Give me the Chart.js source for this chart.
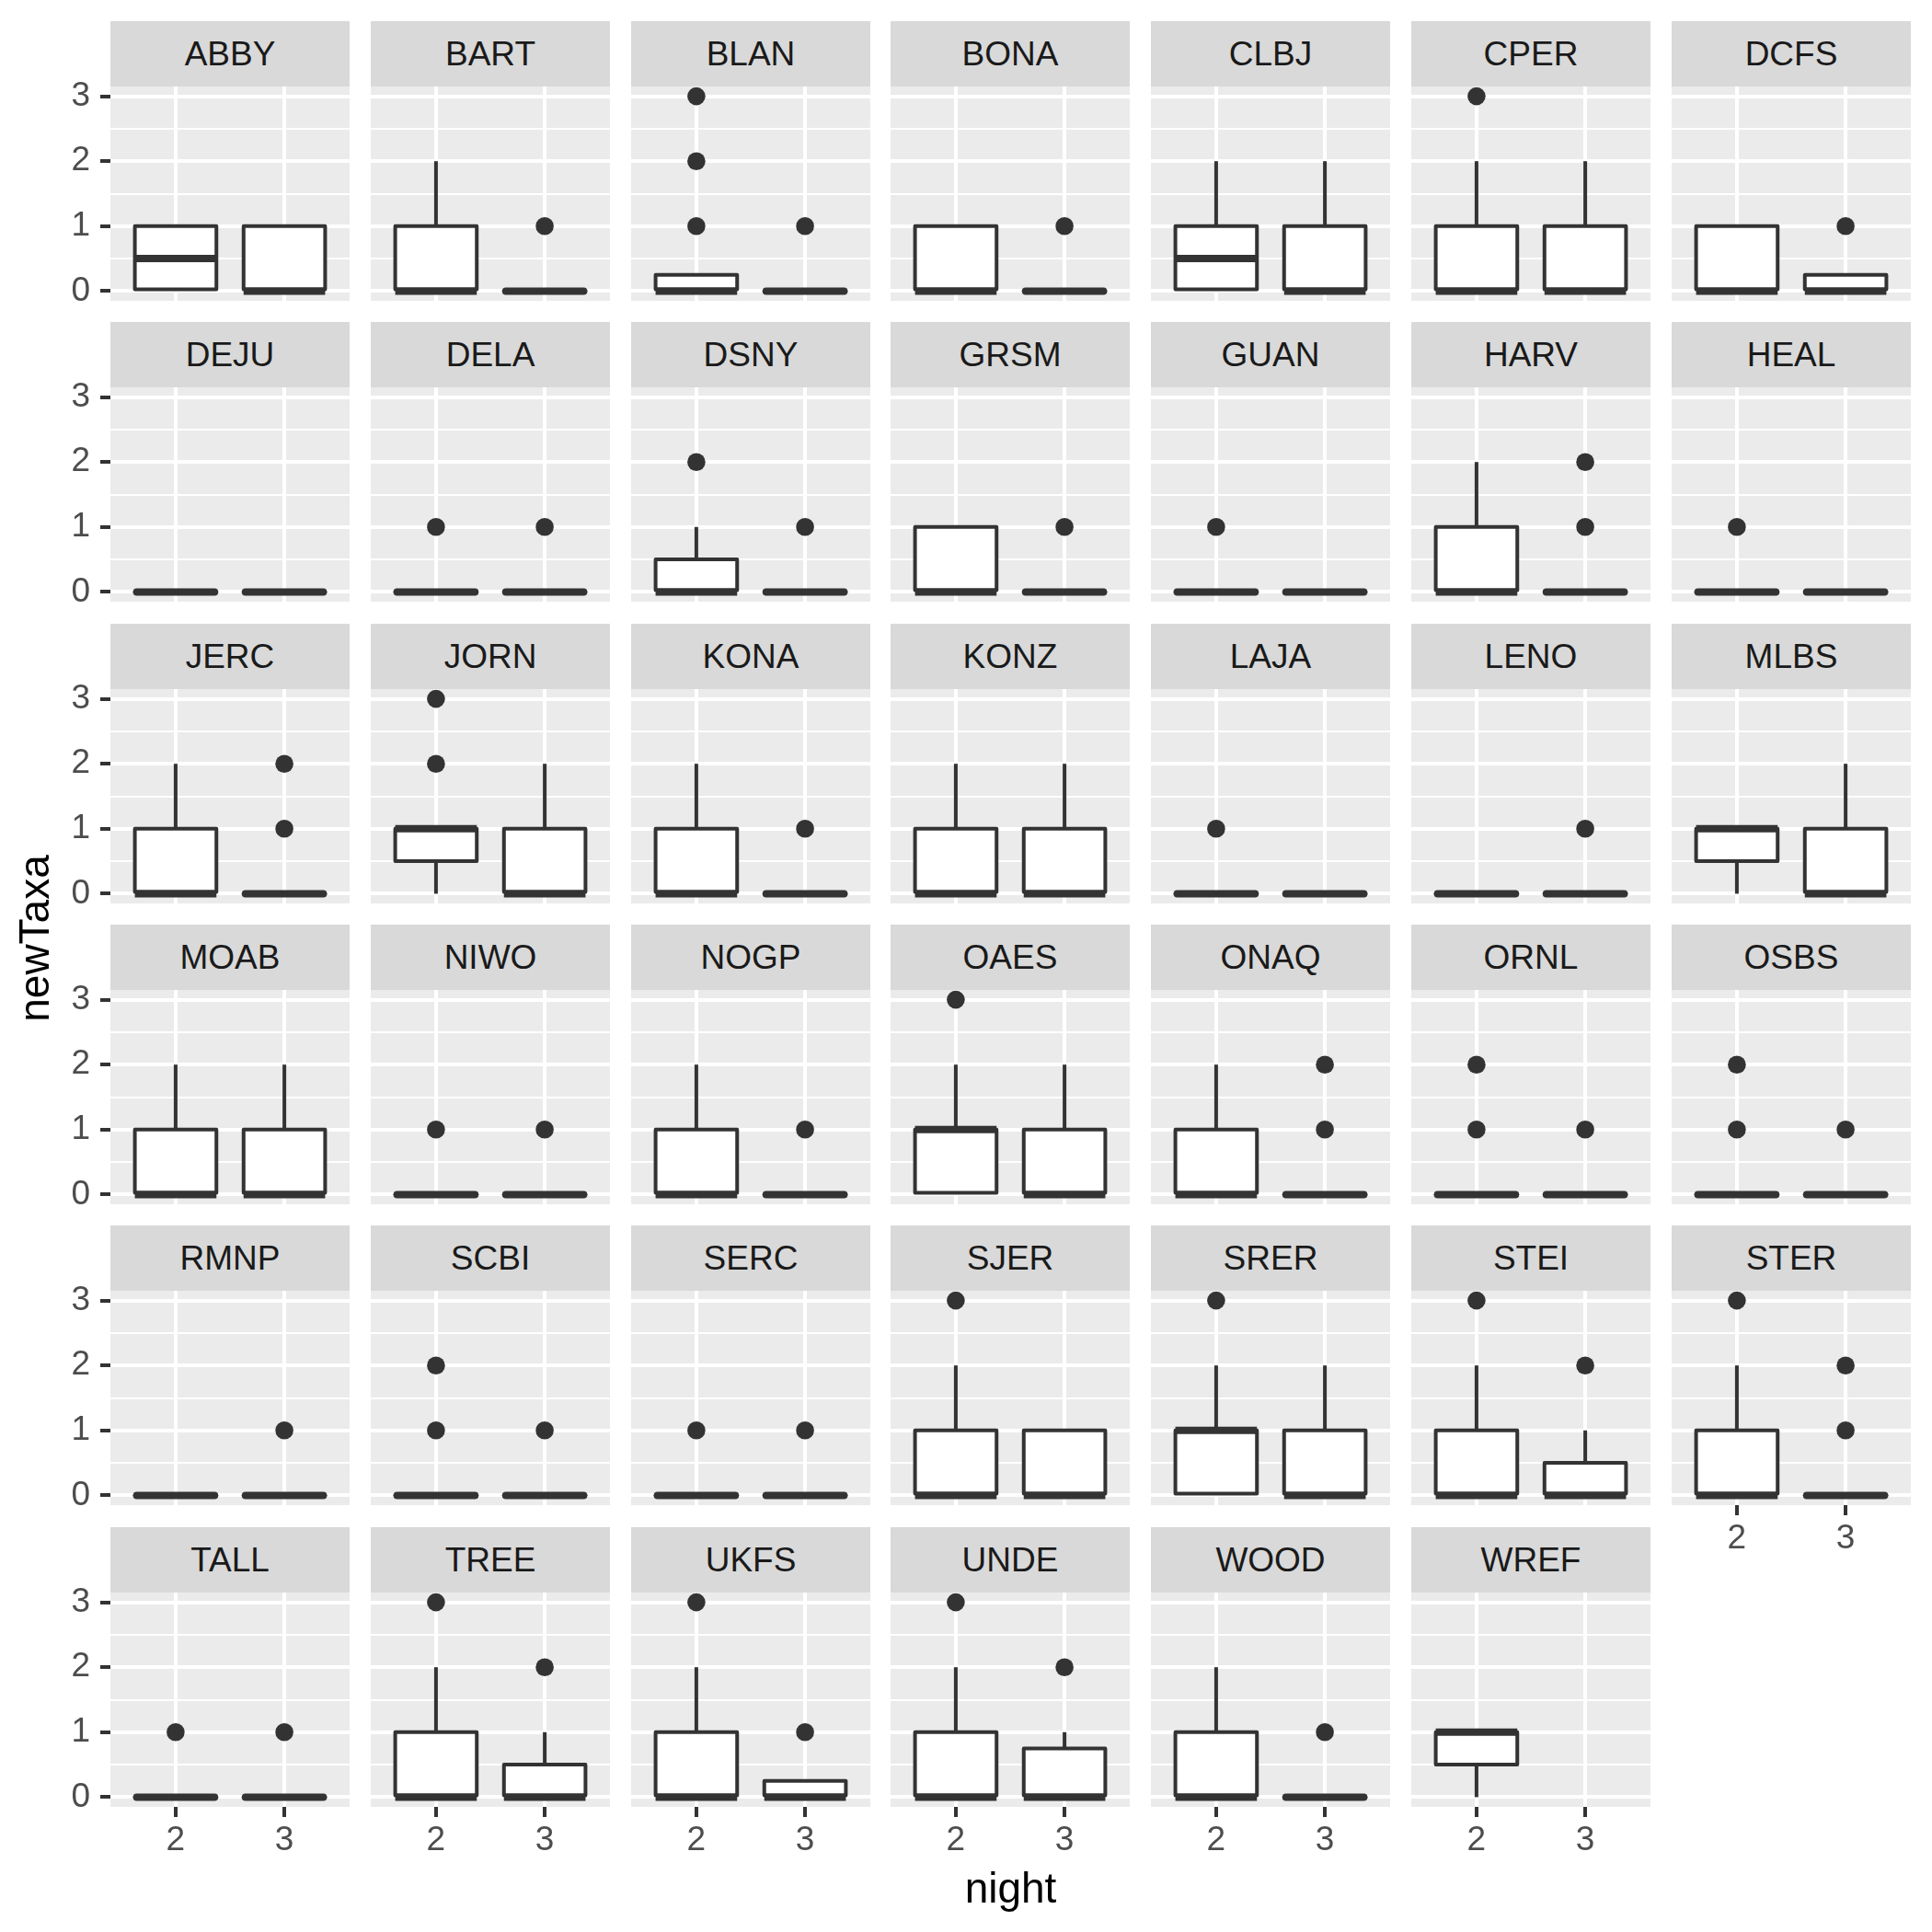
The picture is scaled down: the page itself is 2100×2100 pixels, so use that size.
<!DOCTYPE html>
<html><head><meta charset="utf-8">
<script src="https://cdn.jsdelivr.net/npm/chart.js@4.4.1/dist/chart.umd.min.js"></script>
<style>
html,body{margin:0;padding:0;background:#fff;}
#root{position:relative;width:2100px;height:2100px;overflow:hidden;font-family:"Liberation Sans",Arial,sans-serif;}
.strip{position:absolute;background:#D9D9D9;color:#1A1A1A;font-size:37px;text-align:center;width:260px;height:71px;line-height:71px;}
canvas{position:absolute;}
.title{position:absolute;color:#000;font-size:46px;text-align:center;white-space:nowrap;width:400px;height:60px;line-height:60px;}
</style></head><body><div id="root"></div>
<script>
const sites = ['ABBY','BART','BLAN','BONA','CLBJ','CPER','DCFS',
  'DEJU','DELA','DSNY','GRSM','GUAN','HARV','HEAL',
  'JERC','JORN','KONA','KONZ','LAJA','LENO','MLBS',
  'MOAB','NIWO','NOGP','OAES','ONAQ','ORNL','OSBS',
  'RMNP','SCBI','SERC','SJER','SRER','STEI','STER',
  'TALL','TREE','UKFS','UNDE','WOOD','WREF'];
const nights = [2, 3];
const yMajor = [0, 1, 2, 3];
const yMinor = [0.5, 1.5, 2.5];

// [lower whisker, Q1, median, Q3, upper whisker]
const night2Box = [
  [0,0,0.5,1,1],[0,0,0,1,2],[0,0,0,0.25,0.25],[0,0,0,1,1],[0,0,0.5,1,2],[0,0,0,1,2],[0,0,0,1,1],
  [0,0,0,0,0],[0,0,0,0,0],[0,0,0,0.5,1],[0,0,0,1,1],[0,0,0,0,0],[0,0,0,1,2],[0,0,0,0,0],
  [0,0,0,1,2],[0,0.5,1,1,1],[0,0,0,1,2],[0,0,0,1,2],[0,0,0,0,0],[0,0,0,0,0],[0,0.5,1,1,1],
  [0,0,0,1,2],[0,0,0,0,0],[0,0,0,1,2],[0,0,1,1,2],[0,0,0,1,2],[0,0,0,0,0],[0,0,0,0,0],
  [0,0,0,0,0],[0,0,0,0,0],[0,0,0,0,0],[0,0,0,1,2],[0,0,1,1,2],[0,0,0,1,2],[0,0,0,1,2],
  [0,0,0,0,0],[0,0,0,1,2],[0,0,0,1,2],[0,0,0,1,2],[0,0,0,1,2],[0,0.5,1,1,1]
];
const night3Box = [
  [0,0,0,1,1],[0,0,0,0,0],[0,0,0,0,0],[0,0,0,0,0],[0,0,0,1,2],[0,0,0,1,2],[0,0,0,0.25,0.25],
  [0,0,0,0,0],[0,0,0,0,0],[0,0,0,0,0],[0,0,0,0,0],[0,0,0,0,0],[0,0,0,0,0],[0,0,0,0,0],
  [0,0,0,0,0],[0,0,0,1,2],[0,0,0,0,0],[0,0,0,1,2],[0,0,0,0,0],[0,0,0,0,0],[0,0,0,1,2],
  [0,0,0,1,2],[0,0,0,0,0],[0,0,0,0,0],[0,0,0,1,2],[0,0,0,0,0],[0,0,0,0,0],[0,0,0,0,0],
  [0,0,0,0,0],[0,0,0,0,0],[0,0,0,0,0],[0,0,0,1,1],[0,0,0,1,2],[0,0,0,0.5,1],[0,0,0,0,0],
  [0,0,0,0,0],[0,0,0,0.5,1],[0,0,0,0.25,0.25],[0,0,0,0.75,1],[0,0,0,0,0],null
];
const night2Out = [
  [],[],[1,2,3],[],[],[3],[],
  [],[1],[2],[],[1],[],[1],
  [],[2,3],[],[],[1],[],[],
  [],[1],[],[3],[],[1,2],[1,2],
  [],[1,2],[1],[3],[3],[3],[3],
  [1],[3],[3],[3],[],[]
];
const night3Out = [
  [],[1],[1],[1],[],[],[1],
  [],[1],[1],[1],[],[1,2],[],
  [1,2],[],[1],[],[],[1],[],
  [],[1],[1],[],[1,2],[1],[1],
  [1],[1],[1],[],[],[2],[1,2],
  [1],[2],[1],[2],[1],[]
];

Chart.defaults.font.family = "'Liberation Sans', Arial, sans-serif";

const INK = '#333333';
const panelBg = {
  id: 'panelBg',
  beforeDraw(chart) {
    const {ctx, chartArea: a} = chart;
    ctx.save();
    ctx.fillStyle = '#EBEBEB';
    ctx.fillRect(a.left, a.top, a.width, a.height);
    ctx.restore();
  }
};
const boxPlugin = {
  id: 'boxStats',
  beforeDatasetsDraw(chart, args, opts) {
    const {ctx, scales: {x, y}} = chart;
    ctx.save();
    ctx.strokeStyle = INK; ctx.lineWidth = 4; ctx.lineCap = 'butt';
    opts.stats.forEach((s, k) => {
      if (!s) return;
      const cx = x.getPixelForValue(nights[k]);
      ctx.beginPath();
      if (s[4] > s[3]) { ctx.moveTo(cx, y.getPixelForValue(s[3])); ctx.lineTo(cx, y.getPixelForValue(s[4])); }
      if (s[0] < s[1]) { ctx.moveTo(cx, y.getPixelForValue(s[1])); ctx.lineTo(cx, y.getPixelForValue(s[0])); }
      ctx.stroke();
    });
    ctx.restore();
  },
  afterDatasetsDraw(chart, args, opts) {
    const {ctx, scales: {y}} = chart;
    const meta = chart.getDatasetMeta(0);
    const raw = chart.data.datasets[0].data;
    ctx.save();
    ctx.strokeStyle = INK;
    meta.data.forEach((bar, j) => {
      const s = opts.stats[nights.indexOf(raw[j].x)];
      const p = bar.getProps(['x', 'y', 'base', 'width'], true);
      const left = p.x - p.width / 2;
      const top = Math.min(p.y, p.base);
      const h = Math.abs(p.base - p.y);
      ctx.lineWidth = 4; ctx.lineJoin = 'round'; ctx.lineCap = 'round';
      ctx.beginPath();
      if (h > 0.5) ctx.rect(left, top, p.width, h);
      else { ctx.moveTo(left, top); ctx.lineTo(left + p.width, top); }
      ctx.stroke();
      const my = y.getPixelForValue(s[2]);
      ctx.lineWidth = 8;
      ctx.beginPath();
      if (h > 0.5) { ctx.lineCap = 'butt'; ctx.moveTo(left, my); ctx.lineTo(left + p.width, my); }
      else { ctx.lineCap = 'round'; ctx.moveTo(left + 2, my); ctx.lineTo(left + p.width - 2, my); }
      ctx.stroke();
    });
    ctx.restore();
  }
};

const root = document.getElementById('root');
const isMinor = (ctx) => ctx && ctx.tick && yMinor.includes(ctx.tick.value);

sites.forEach((site, i) => {
  const c = i % 7, r = Math.floor(i / 7);
  const px = Math.round(120 + 282.83 * c);
  const py = Math.round(94 + 327.3 * r);
  const hasY = c === 0;
  const hasX = r === 5 || (r === 4 && c === 6);
  const leftW = hasY ? 120 : 0;
  const botH = hasX ? 60 : 0;

  const strip = document.createElement('div');
  strip.className = 'strip';
  strip.style.left = px + 'px';
  strip.style.top = (py - 71) + 'px';
  strip.textContent = site;

  const cv = document.createElement('canvas');
  cv.width = leftW + 260;
  cv.height = 20 + 233 + botH;
  cv.style.left = (px - leftW) + 'px';
  cv.style.top = (py - 20) + 'px';
  cv.style.width = cv.width + 'px';
  cv.style.height = cv.height + 'px';
  root.appendChild(cv);
  root.appendChild(strip);

  const stats = [night2Box[i], night3Box[i]];
  const outs = [night2Out[i], night3Out[i]];
  const boxes = [];
  const points = [];
  stats.forEach((s, k) => { if (s) boxes.push({x: nights[k], y: [s[1], s[3]]}); });
  outs.forEach((o, k) => o.forEach(v => points.push({x: nights[k], y: v})));

  new Chart(cv, {
    type: 'bar',
    data: {
      datasets: [
        {type: 'bar', data: boxes, backgroundColor: '#FFFFFF', borderWidth: 0,
         barPercentage: 0.75, categoryPercentage: 1},
        {type: 'scatter', data: points, pointRadius: 9.8, pointHoverRadius: 9.8,
         pointBackgroundColor: INK, pointBorderWidth: 0, showLine: false}
      ]
    },
    options: {
      responsive: false, animation: false, devicePixelRatio: 1, events: [],
      layout: {autoPadding: false, padding: {top: 20, left: 0, right: 0, bottom: 0}},
      plugins: {legend: {display: false}, tooltip: {enabled: false}, boxStats: {stats}},
      scales: {
        x: {
          type: 'linear', min: 1.4, max: 3.6, offset: false,
          afterBuildTicks: s => { s.ticks = nights.map(v => ({value: v})); },
          afterFit: s => { s.height = botH; s.paddingLeft = 0; s.paddingRight = 0; s.paddingTop = 0; s.paddingBottom = 0; },
          grid: {color: '#FFFFFF', lineWidth: 4, offset: false, drawTicks: hasX, tickLength: 11, tickColor: INK, tickWidth: 4},
          border: {display: false},
          ticks: {display: hasX, autoSkip: false, maxRotation: 0, minRotation: 0, padding: 4,
                  color: '#4D4D4D', font: {size: 37}, callback: v => String(v)}
        },
        y: {
          type: 'linear', min: -0.15, max: 3.15,
          afterBuildTicks: s => { s.ticks = yMajor.concat(yMinor).sort((a, b) => a - b).map(v => ({value: v})); },
          afterFit: s => { s.width = leftW; s.paddingLeft = 0; s.paddingRight = 0; s.paddingTop = 0; s.paddingBottom = 0; },
          grid: {color: '#FFFFFF', lineWidth: ctx => isMinor(ctx) ? 2 : 4, drawTicks: hasY, tickLength: 11,
                 tickColor: ctx => isMinor(ctx) ? 'rgba(0,0,0,0)' : INK, tickWidth: 4},
          border: {display: false},
          ticks: {display: hasY, autoSkip: false, padding: 11, color: '#4D4D4D', font: {size: 37},
                  callback: v => yMajor.includes(v) ? String(v) : ''}
        }
      }
    },
    plugins: [panelBg, boxPlugin]
  });
});

const xt = document.createElement('div');
xt.className = 'title';
xt.textContent = 'night';
xt.style.left = (1098.5 - 200) + 'px';
xt.style.top = (2052 - 30) + 'px';
root.appendChild(xt);

const yt = document.createElement('div');
yt.className = 'title';
yt.textContent = 'newTaxa';
yt.style.left = (37 - 200) + 'px';
yt.style.top = (1020 - 30) + 'px';
yt.style.transform = 'rotate(-90deg)';
root.appendChild(yt);
</script></body></html>
